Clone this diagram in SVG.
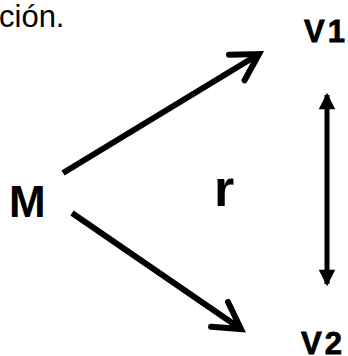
<svg xmlns="http://www.w3.org/2000/svg" width="348" height="356" viewBox="0 0 348 356">
<style>
text{font-family:"Liberation Sans",Arial,sans-serif;fill:#000}
.b{font-weight:bold}
.v{font-size:31px;letter-spacing:3px;stroke:#000;stroke-width:0.8}
.ln{stroke:#000;stroke-width:6;fill:none}
.dl{stroke:#000;stroke-width:5;fill:none}
</style>
<defs>
<marker id="chev" markerUnits="userSpaceOnUse" markerWidth="40" markerHeight="40" viewBox="-32 -20 40 40" refX="0" refY="0" orient="auto">
<path d="M-26,-15 L0,0 L-26,15" fill="none" stroke="#000" stroke-width="6" stroke-linejoin="miter" stroke-linecap="round"/>
</marker>
<marker id="tri" markerUnits="userSpaceOnUse" markerWidth="22" markerHeight="20" viewBox="-16 -8 20 16" refX="0" refY="0" orient="auto-start-reverse">
<path d="M-13,-7.5 L2,0 L-13,7.5 Z" fill="#000"/>
</marker>
</defs>
<g id="caption"><text x="-1" y="27" font-size="31">ción.</text></g>
<g id="V1"><text class="b v" x="304" y="42">V1</text></g>
<g id="V2"><text class="b v" x="301" y="354">V2</text></g>
<g id="M"><text class="b" x="9" y="217" font-size="44">M</text></g>
<g id="r"><text class="b" x="214" y="206" font-size="52">r</text></g>
<g id="connectors">
<line class="ln" x1="63" y1="173" x2="259" y2="54" marker-end="url(#chev)"/>
<line class="ln" x1="72" y1="213" x2="241" y2="329" marker-end="url(#chev)"/>
<line class="dl" x1="327" y1="95" x2="327" y2="284" marker-start="url(#tri)" marker-end="url(#tri)"/>
</g>
</svg>
